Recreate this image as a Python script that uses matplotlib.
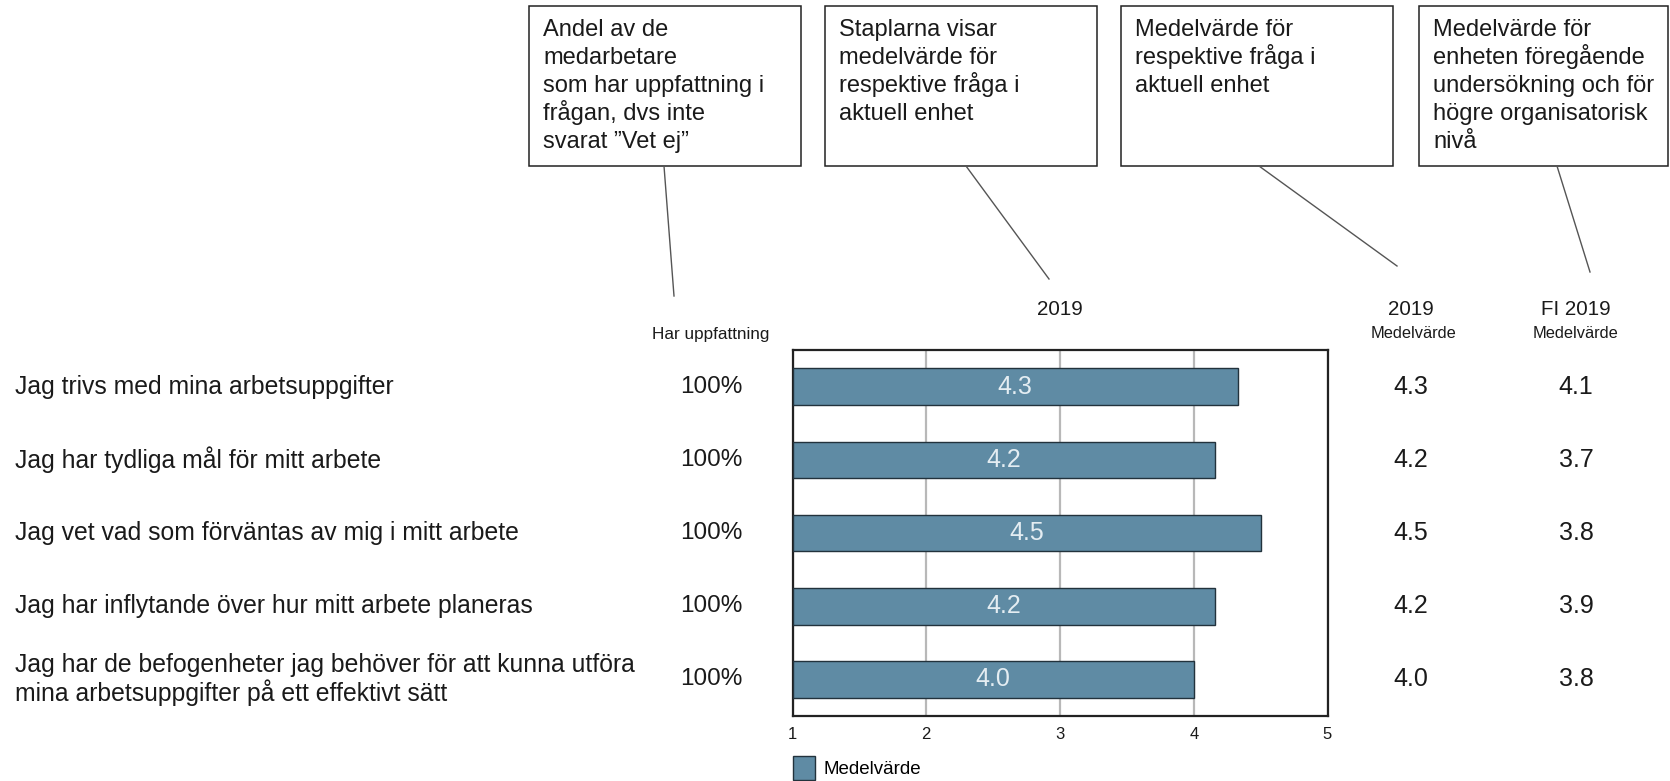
import matplotlib
matplotlib.use("Agg")
import matplotlib.pyplot as plt
from matplotlib.patches import Rectangle, Patch
from matplotlib.lines import Line2D
import matplotlib.transforms as mtransforms

# ---------------- data ----------------
questions = [
    "Jag trivs med mina arbetsuppgifter",
    "Jag har tydliga mål för mitt arbete",
    "Jag vet vad som förväntas av mig i mitt arbete",
    "Jag har inflytande över hur mitt arbete planeras",
    "Jag har de befogenheter jag behöver för att kunna utföra\nmina arbetsuppgifter på ett effektivt sätt",
]
har_uppfattning = [100, 100, 100, 100, 100]
medel_2019 = [4.33, 4.16, 4.50, 4.16, 4.00]
fi_2019 = [4.1, 3.7, 3.8, 3.9, 3.8]
xticks = [1, 2, 3, 4, 5]
legend_label = "Medelvärde"
header_axes = "2019"
header_col1 = "2019"
header_col2 = "FI 2019"
sub_header = "Medelvärde"
header_pct = "Har uppfattning"
callouts = [
    "Andel av de\nmedarbetare\nsom har uppfattning i\nfrågan, dvs inte\nsvarat \u201dVet ej\u201d",
    "Staplarna visar\nmedelvärde för\nrespektive fråga i\naktuell enhet",
    "Medelvärde för\nrespektive fråga i\naktuell enhet",
    "Medelvärde för\nenheten föregående\nundersökning och för\nhögre organisatorisk\nnivå",
]

# ---------------- layout helpers ----------------
W, H = 1670, 781
plt.rcParams['font.family'] = ['Liberation Sans', 'DejaVu Sans']
TXT = "#1a1a1a"
BAR = "#5f8ba4"

fig = plt.figure(figsize=(W / 100, H / 100), dpi=100)

def fx(px):
    return px / W

def fy(py):
    return 1 - py / H

ax_l, ax_r, ax_t, ax_b = 792.5, 1327.5, 350, 716
ax = fig.add_axes([fx(ax_l), fy(ax_b), fx(ax_r - ax_l), (ax_b - ax_t) / H])

n = len(questions)
ypos = list(range(n))
bars = ax.barh(ypos, [v - 1 for v in medel_2019], left=1, height=0.5,
               color=BAR, edgecolor="#22323c", linewidth=1.0, zorder=3,
               label=legend_label)
for i, v in enumerate(medel_2019):
    ax.text((1 + v) / 2, i, f"{v:.1f}", ha="center", va="center",
            fontsize=18, color="#e4edf2", zorder=4)

ax.set_xlim(xticks[0], xticks[-1])
ax.set_ylim(n - 0.5, -0.5)
ax.set_xticks(xticks)
ax.set_xticklabels([str(t) for t in xticks], fontsize=12, color=TXT)
ax.set_yticks([])
ax.tick_params(axis="x", length=0, pad=8)
ax.grid(axis="x", color="#b8b8b8", linewidth=1.6, zorder=0)
for s in ax.spines.values():
    s.set_linewidth(1.6)
    s.set_color("#222222")

# blended transform: x in figure, y in data
tq = mtransforms.blended_transform_factory(fig.transFigure, ax.transData)

for i, q in enumerate(questions):
    fig.text(fx(15), i, q, transform=tq, ha="left", va="center",
             fontsize=17.8, color=TXT, linespacing=1.08)
    fig.text(fx(711), i, f"{har_uppfattning[i]}%", transform=tq,
             ha="center", va="center", fontsize=17.5, color=TXT)
    fig.text(fx(1411), i, f"{medel_2019[i]:.1f}", transform=tq,
             ha="center", va="center", fontsize=18, color=TXT)
    fig.text(fx(1576), i, f"{fi_2019[i]:.1f}", transform=tq,
             ha="center", va="center", fontsize=18, color=TXT)

# headers
fig.text(fx(1060), fy(309), header_axes, ha="center", va="center", fontsize=14.8, color=TXT)
fig.text(fx(1411), fy(309), header_col1, ha="center", va="center", fontsize=14.8, color=TXT)
fig.text(fx(1576), fy(309), header_col2, ha="center", va="center", fontsize=14.8, color=TXT)
fig.text(fx(1414), fy(334), sub_header, ha="center", va="center", fontsize=11.8, color=TXT)
fig.text(fx(1576), fy(334), sub_header, ha="center", va="center", fontsize=11.8, color=TXT)
fig.text(fx(711), fy(334), header_pct, ha="center", va="center", fontsize=12.3, color=TXT)

# legend
fig.legend(handles=[bars], labels=[legend_label], loc="upper left",
           bbox_to_anchor=(fx(793), fy(756)), frameon=False, fontsize=13.5,
           handlelength=1.15, handleheight=1.6, handletextpad=0.5,
           borderpad=0, borderaxespad=0)

# callout boxes and leader lines
box_lefts = [529, 825, 1121, 1419]
box_w = 272
box_top, box_bot = 6, 166
first_baseline, line_step = 36, 27.9
leader_ends = [(674, 296), (1049, 279), (1397, 266), (1590, 272)]
leader_starts = [(664, 166), (966, 166), (1259, 166), (1557, 166)]
for bl, txt, (sx, sy), (ex, ey) in zip(box_lefts, callouts, leader_starts, leader_ends):
    w = min(box_w, W - 2 - bl)
    fig.add_artist(Rectangle((fx(bl), fy(box_bot)), w / W, (box_bot - box_top) / H,
                             transform=fig.transFigure, fill=False,
                             edgecolor="#222222", linewidth=1.1))
    for k, line in enumerate(txt.split("\n")):
        fig.text(fx(bl + 14), fy(first_baseline + k * line_step), line,
                 ha="left", va="baseline", fontsize=17, color=TXT)
    fig.add_artist(Line2D([fx(sx), fx(ex)], [fy(sy), fy(ey)],
                          transform=fig.transFigure, color="#555555", linewidth=1.0))

fig.savefig("out.png", dpi=100, facecolor="white")
